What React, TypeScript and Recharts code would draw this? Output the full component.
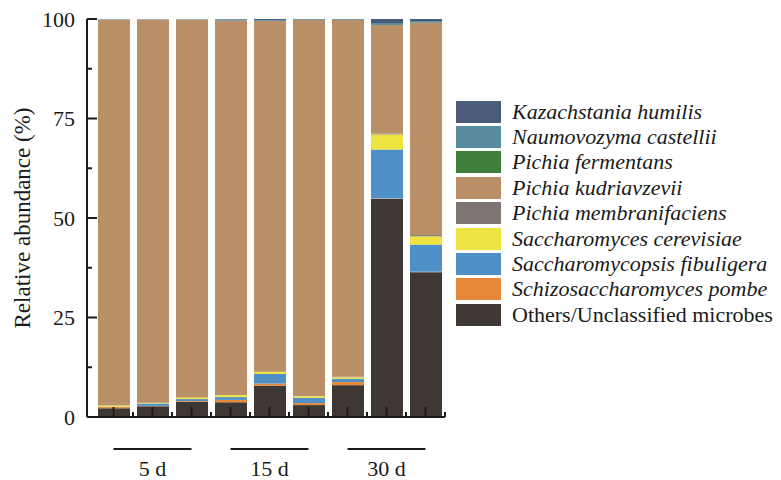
import React from 'react';
import { BarChart, Bar, XAxis, YAxis } from 'recharts';

const samples = ['5d-1', '5d-2', '5d-3', '15d-1', '15d-2', '15d-3', '30d-1', '30d-2', '30d-3'];
const groupLabels = ['5 d', '15 d', '30 d'];
const yTicks = [0, 12.5, 25, 37.5, 50, 62.5, 75, 87.5, 100];

// relative abundance (%) per sample, stacked bottom to top
const others = [2.2, 2.7, 3.8, 3.7, 7.9, 3.0, 8.0, 54.8, 36.4];
const pombe = [0.3, 0.1, 0.2, 0.6, 0.5, 0.5, 0.8, 0.1, 0.1];
const fibuligera = [0.1, 0.6, 0.5, 0.7, 2.4, 1.3, 0.8, 12.3, 6.8];
const cerevisiae = [0.3, 0.2, 0.4, 0.5, 0.6, 0.4, 0.4, 3.8, 2.1];
const membranifaciens = [0, 0, 0, 0, 0, 0, 0.1, 0.2, 0.3];
const kudriavzevii = [97.0, 96.3, 95.0, 94.1, 88.1, 94.6, 89.7, 27.3, 53.4];
const fermentans = [0, 0, 0, 0, 0, 0, 0, 0, 0];
const castellii = [0.1, 0.1, 0.1, 0.3, 0.2, 0.2, 0.2, 0.5, 0.4];
const humilis = [0, 0, 0, 0.1, 0.3, 0, 0, 1.0, 0.5];

const series = [
  { key: 'others', name: 'Others/Unclassified microbes', color: '#3e3733', values: others },
  { key: 'pombe', name: 'Schizosaccharomyces pombe', color: '#e68a39', values: pombe },
  { key: 'fibuligera', name: 'Saccharomycopsis fibuligera', color: '#4f90c6', values: fibuligera },
  { key: 'cerevisiae', name: 'Saccharomyces cerevisiae', color: '#efe342', values: cerevisiae },
  { key: 'membranifaciens', name: 'Pichia membranifaciens', color: '#7e7572', values: membranifaciens },
  { key: 'kudriavzevii', name: 'Pichia kudriavzevii', color: '#b99068', values: kudriavzevii },
  { key: 'fermentans', name: 'Pichia fermentans', color: '#3f7e3b', values: fermentans },
  { key: 'castellii', name: 'Naumovozyma castellii', color: '#578c9f', values: castellii },
  { key: 'humilis', name: 'Kazachstania humilis', color: '#4a5b7c', values: humilis },
];

const data = samples.map((sample, i) => {
  const row: Record<string, string | number> = { sample };
  series.forEach((s) => {
    row[s.key] = s.values[i];
  });
  return row;
});

const FONT = '"Liberation Serif", "Times New Roman", serif';
const INK = '#1a1a1a';
const W = 781;
const H = 480;
const MARGIN = { top: 19, right: 336, bottom: 0, left: 0 };
const Y_AXIS_W = 87;
const X_PAD_LEFT = 7;
const BAND = (W - MARGIN.right - MARGIN.left - Y_AXIS_W - X_PAD_LEFT) / samples.length;

const XTick = (props: any) => {
  const { x, y, index } = props;
  const mid = index % 3 === 1;
  return (
    <g>
      <line x1={x} x2={x} y1={y} y2={y - 10} stroke={INK} strokeWidth={2} />
      <line x1={x + BAND / 2} x2={x + BAND / 2} y1={y} y2={y - 5} stroke={INK} strokeWidth={2} />
      {mid && (
        <g>
          <line x1={x - BAND} x2={x + BAND} y1={y + 32} y2={y + 32} stroke={INK} strokeWidth={2} />
          <text x={x} y={y + 59} textAnchor="middle" fontFamily={FONT} fontSize={22} fill={INK}>
            {groupLabels[(index - 1) / 3]}
          </text>
        </g>
      )}
    </g>
  );
};

const YTick = (props: any) => {
  const { x, y, payload } = props;
  const major = payload.value % 25 === 0;
  return (
    <g>
      <line x1={x} x2={x + (major ? 10 : 5)} y1={y} y2={y} stroke={INK} strokeWidth={2} />
      {major && (
        <text x={x - 12} y={y} dy="0.35em" textAnchor="end" fontFamily={FONT} fontSize={22} fill={INK}>
          {payload.value}
        </text>
      )}
    </g>
  );
};

const YTitle = (props: any) => {
  const { viewBox } = props;
  const cx = viewBox.x + 22;
  const cy = viewBox.y + viewBox.height / 2;
  return (
    <text
      x={cx}
      y={cy}
      transform={`rotate(-90 ${cx} ${cy})`}
      textAnchor="middle"
      dominantBaseline="central"
      fontFamily={FONT}
      fontSize={23}
      fill={INK}
    >
      Relative abundance (%)
    </text>
  );
};

// legend lists species top-down, in reverse stacking order
const SpeciesLegend = () => (
  <div style={{ position: 'absolute', left: 456, top: 99, fontFamily: FONT, fontSize: 22, color: INK }}>
    {[...series].reverse().map((s) => (
      <div key={s.key} style={{ display: 'flex', alignItems: 'center', height: 25.4 }}>
        <span style={{ width: 45, height: 22, background: s.color, display: 'inline-block', marginRight: 11 }} />
        <span style={{ fontStyle: s.key === 'others' ? 'normal' : 'italic', whiteSpace: 'nowrap', lineHeight: '22px' }}>
          {s.name}
        </span>
      </div>
    ))}
  </div>
);

export default function App() {
  return (
    <div style={{ position: 'absolute', left: 0, top: 0, width: W, height: H, background: '#fff' }}>
      <BarChart width={W} height={H} data={data} margin={MARGIN}>
        <YAxis
          width={Y_AXIS_W}
          domain={[0, 100]}
          ticks={yTicks}
          interval={0}
          tickLine={false}
          tickSize={0}
          tickMargin={0}
          tick={<YTick />}
          axisLine={{ stroke: INK, strokeWidth: 2 }}
          label={<YTitle />}
        />
        <XAxis
          dataKey="sample"
          height={H - 417}
          padding={{ left: X_PAD_LEFT, right: 0 }}
          interval={0}
          tickLine={false}
          tickSize={0}
          tickMargin={0}
          tick={<XTick />}
          axisLine={{ stroke: INK, strokeWidth: 2 }}
        />
        {series.map((s) => (
          <Bar
            key={s.key}
            dataKey={s.key}
            name={s.name}
            stackId="a"
            fill={s.color}
            barSize={32}
            isAnimationActive={false}
          />
        ))}
      </BarChart>
      <SpeciesLegend />
    </div>
  );
}
